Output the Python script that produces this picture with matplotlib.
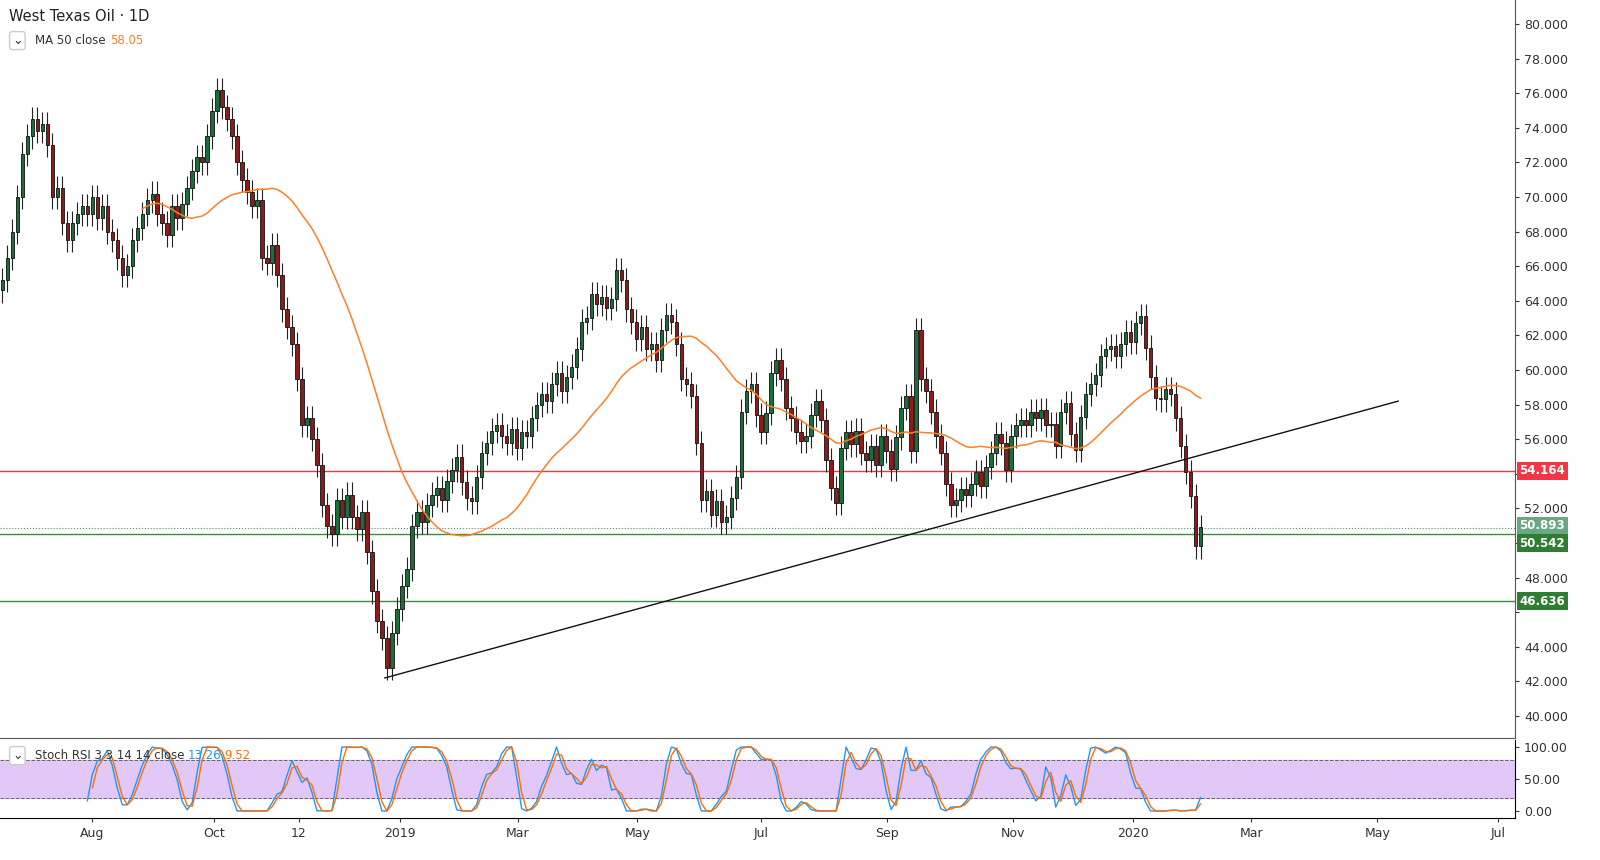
import numpy as np
import matplotlib
matplotlib.use("Agg")
import matplotlib.pyplot as plt
from matplotlib.patches import Rectangle

closes = [65.2, 66.5, 68, 70, 72.5, 73.5, 74.5, 73.8, 74.2, 73,
70, 70.5, 68.5, 67.5, 68.5, 69, 69.5, 69, 70, 68.8,
69.5, 68, 67.5, 66.5, 65.5, 66, 67.5, 68.2, 69, 69.8,
70.2, 69, 68.5, 67.8, 69.5, 68.8, 69.6, 70.5, 71.5, 72.3,
72, 73.5, 75, 76.2, 75.2, 74.5, 73.5, 72, 71, 70.3,
69.5, 69.8, 66.5, 66.2, 67.2, 65.5, 63.5, 62.5, 61.5, 59.5,
56.8, 57.2, 56, 54.5, 52.2, 51, 50.5, 52.5, 51.5, 52.8,
51.5, 50.8, 51.8, 49.5, 47.2, 45.5, 44.5, 42.8, 44.8, 46.2,
47.5, 48.5, 51, 51.8, 51.2, 52.2, 52.8, 53.2, 52.5, 53.6,
54.2, 55, 53.5, 52.6, 52.4, 53.8, 55.2, 55.8, 56.5, 56.8,
56.2, 55.8, 56.6, 55.5, 56.4, 56.2, 57.2, 58, 58.6, 58.2,
59.2, 59.8, 58.8, 59.6, 60.2, 61.2, 62.8, 63, 64.4, 63.8,
64.2, 63.6, 64.1, 65.8, 65.2, 63.5, 62.8, 61.8, 62.5, 61.2,
61.5, 60.6, 62.3, 63.2, 62.8, 61.5, 59.5, 59.2, 58.5, 55.8,
52.5, 53, 51.6, 52.4, 51.2, 51.5, 52.6, 53.8, 57.6, 58.8,
59.2, 57.4, 56.4, 57.5, 59.8, 60.6, 59.5, 57.8, 57.2, 56.4,
55.9, 56.2, 57.4, 58.2, 57.1, 54.8, 53.2, 52.3, 55.5, 56.4,
55.7, 56.5, 55.2, 54.8, 55.6, 54.5, 56.2, 55.3, 54.3, 56.1,
57.8, 58.5, 55.3, 62.3, 59.5, 58.8, 57.6, 56.2, 55.2, 53.4,
52.2, 52.5, 53.1, 52.8, 53.4, 54.1, 53.3, 54.4, 55.2, 56.3,
55.8, 54.2, 56.2, 56.8, 57.1, 56.8, 57.6, 57.2, 57.7, 56.8,
56.9, 55.6, 57.6, 58.1, 56.3, 55.4, 57.3, 58.6, 59.2, 59.7,
60.8, 61.2, 61.4, 60.8, 61.5, 62.2, 61.6, 62.7, 63.1, 61.3,
59.6, 58.4, 58.3, 58.9, 58.6, 57.2, 55.6, 54.1, 52.7, 49.8,
50.9]
first_open = 64.6
tick_pos = [18, 42.4, 59.4, 79.6, 103.2, 127.2, 152, 177.2, 202.4, 226.4, 250.2, 275.4, 299.6]
tick_labels = ["Aug", "Oct", "12", "2019", "Mar", "May", "Jul", "Sep", "Nov", "2020", "Mar", "May", "Jul"]
levels = [(54.164, "#f23645"), (50.542, "#388e3c"), (46.636, "#388e3c")]
last_price = 50.893
trend = ((76.6, 42.2), (279.6, 58.2))

c = np.array(closes)
o = np.concatenate([[first_open], c[:-1]])
n = len(c)
idx = np.arange(n)

fig = plt.figure(figsize=(16, 8.6), dpi=100)
ax = fig.add_axes([0, (860-738)/860, 1515/1600, 738/860])
ax2 = fig.add_axes([0, (860-818)/860, 1515/1600, 78/860], sharex=ax)

wick = 0.7
for i in idx:
    up = c[i] >= o[i]
    col = "#1b6e3a" if up else "#8c1c1c"
    lo, hi = min(o[i], c[i]), max(o[i], c[i])
    ax.vlines(i, lo - wick, hi + wick, color="#222222", lw=0.8, zorder=2)
    ax.add_patch(Rectangle((i - 0.35, lo), 0.7, max(hi - lo, 0.05), facecolor=col,
                           edgecolor="#111111", lw=0.6, zorder=3))

w = 29
ma = np.convolve(c, np.ones(w) / w, mode="valid")
ax.plot(idx[w-1:], ma, color="#ff7f27", lw=1.1, zorder=4)

for v, col in levels:
    ax.axhline(v, color=col, lw=1.0, zorder=1)
ax.axhline(last_price, color="#4a9a6a", lw=0.8, ls=":", zorder=1)
ax.plot([trend[0][0], trend[1][0]], [trend[0][1], trend[1][1]], color="#111111", lw=1.0, zorder=4)

ax.set_xlim(-0.5, 303)
ax.set_ylim(80 - (738-24)/17.3, 80 + 24/17.3)
ax.yaxis.tick_right()
yt = np.arange(40, 81, 2)
ax.set_yticks(yt)
ax.set_yticklabels(["" if v in (46, 50, 54) else f"{v:.3f}" for v in yt])
ax.tick_params(axis="y", labelsize=9, colors="#333333", length=3)
ax.tick_params(axis="x", bottom=False, labelbottom=False)
for s in ["top", "left"]:
    ax.spines[s].set_visible(False)
ax.spines["right"].set_color("#555555")
ax.spines["bottom"].set_color("#555555")

def tag(a, v, txt, col, fc="white"):
    a.text(1.003, v, txt, transform=a.get_yaxis_transform(), fontsize=8.5, color=fc,
           va="center", ha="left", fontweight="bold",
           bbox=dict(boxstyle="square,pad=0.2", fc=col, ec="none"), clip_on=False, zorder=10)
tag(ax, 54.164, "54.164", "#f23645")
tag(ax, 51.0, "50.893", "#6aa883")
tag(ax, 50.0, "50.542", "#2e7d32")
tag(ax, 46.636, "46.636", "#2e7d32")

ax.text(0.006, 0.977, "West Texas Oil · 1D", transform=ax.transAxes, fontsize=10.5, color="#222222", va="center")
ax.text(0.023, 0.945, "MA 50 close", transform=ax.transAxes, fontsize=8.5, color="#333333", va="center")
ax.text(0.0726, 0.945, "58.05", transform=ax.transAxes, fontsize=8.5, color="#ff7f27", va="center")
ax.text(0.008, 0.945, "⌄", transform=ax.transAxes, fontsize=9, color="#333", va="center",
        bbox=dict(boxstyle="round,pad=0.2", fc="white", ec="#cccccc"))

# Stoch RSI
pr = 8
d = np.diff(c)
gain = np.where(d > 0, d, 0.0)
loss = np.where(d < 0, -d, 0.0)
rsi = np.full(n, np.nan)
for i in range(pr, n):
    g = gain[i-pr:i].mean(); l = loss[i-pr:i].mean()
    rsi[i] = 100 if l == 0 else 100 - 100 / (1 + g / l)
st = np.full(n, np.nan)
for i in range(2*pr, n):
    win = rsi[i-pr+1:i+1]
    rng = win.max() - win.min()
    st[i] = 0 if rng == 0 else (rsi[i] - win.min()) / rng * 100
k = np.convolve(np.nan_to_num(st), np.ones(2)/2, mode="same")
dd = np.convolve(k, np.ones(2)/2, mode="same")
k[:2*pr+1] = np.nan; dd[:2*pr+2] = np.nan
ax2.axhspan(20, 80, color="#e1c8f7", zorder=0)
ax2.axhline(80, color="#666", ls="--", lw=0.7); ax2.axhline(20, color="#666", ls="--", lw=0.7)
ax2.plot(idx, k, color="#2196f3", lw=1.0)
ax2.plot(idx, dd, color="#ff6d00", lw=1.0)
ax2.set_ylim(-11, 111)
ax2.yaxis.tick_right()
ax2.set_yticks([0, 50, 100]); ax2.set_yticklabels(["0.00", "50.00", "100.00"])
ax2.tick_params(axis="y", labelsize=9, colors="#333", length=3)
ax2.set_xticks(tick_pos); ax2.set_xticklabels(tick_labels)
ax2.tick_params(axis="x", labelsize=9, colors="#333", length=3)
for s in ["top", "left"]:
    ax2.spines[s].set_visible(False)
ax2.text(0.023, 0.8, "Stoch RSI 3 3 14 14 close", transform=ax2.transAxes, fontsize=8.5, color="#333", va="center")
ax2.text(0.124, 0.8, "13.26", transform=ax2.transAxes, fontsize=8.5, color="#2196f3", va="center")
ax2.text(0.148, 0.8, "9.52", transform=ax2.transAxes, fontsize=8.5, color="#ff6d00", va="center")
ax2.text(0.008, 0.8, "⌄", transform=ax2.transAxes, fontsize=9, color="#333", va="center",
         bbox=dict(boxstyle="round,pad=0.2", fc="white", ec="#cccccc"))

fig.savefig("out.png", dpi=100)
